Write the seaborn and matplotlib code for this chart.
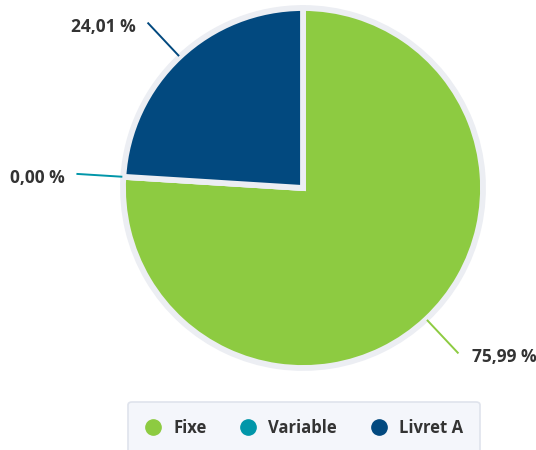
import numpy as np
import matplotlib
matplotlib.use("Agg")
import matplotlib.pyplot as plt
from matplotlib.lines import Line2D
import seaborn as sns

categories = ["Fixe", "Variable", "Livret A"]
values = [75.99, 0.00, 24.01]
labels = ["75,99 %", "0,00 %", "24,01 %"]
colors = ["#8dcb41", "#0096a9", "#02497f"]

sns.set_theme(style="white")
plt.rcParams['font.family'] = ['Open Sans', 'DejaVu Sans']

W, H = 536, 450
fig = plt.figure(figsize=(W / 100, H / 100), dpi=100)
ax = fig.add_axes([0, 0, 1, 1])
ax.set_xlim(0, W)
ax.set_ylim(0, H)
ax.set_aspect('equal')
ax.axis('off')

cx, cy, R = 303, H - 188, 180
wedges, _ = ax.pie(values, colors=colors, startangle=90, counterclock=False,
                   center=(cx, cy), radius=R, frame=True,
                   wedgeprops=dict(edgecolor="#eceef3", linewidth=4.2))
ax.set_xlim(0, W)
ax.set_ylim(0, H)
ax.axis('off')

for w, lab, col in zip(wedges, labels, colors):
    ang = np.deg2rad((w.theta1 + w.theta2) / 2)
    c, s = np.cos(ang), np.sin(ang)
    r0, r1 = R + 1, R + 47
    x0, y0 = cx + r0 * c, cy + r0 * s
    x1, y1 = cx + r1 * c, cy + r1 * s
    ax.plot([x0, x1], [y0, y1], color=col, lw=1.4, solid_capstyle='butt')
    if c >= 0:
        ax.text(x1 + 14, y1 - 4, lab, ha='left', va='center', fontsize=12.5,
                fontweight='bold', color='#333333')
    else:
        ax.text(x1 - 12, y1 - 4, lab, ha='right', va='center', fontsize=12.5,
                fontweight='bold', color='#333333')

handles = [Line2D([0], [0], marker='o', linestyle='none', markersize=11,
                  markerfacecolor=col, markeredgecolor=col) for col in colors]
leg = ax.legend(handles, categories, ncol=3, loc='upper center',
                bbox_to_anchor=(304 / W, 1 - 402 / H), frameon=True,
                fancybox=True, handlelength=1.0, handletextpad=0.7,
                columnspacing=2.0, borderpad=1.0, borderaxespad=0,
                prop=dict(family=['Open Sans', 'DejaVu Sans'], weight='bold', size=12))
fr = leg.get_frame()
fr.set_facecolor('#f4f6fb')
fr.set_edgecolor('#dfe3ec')
fr.set_linewidth(1.2)
fr.set_alpha(1)
for t in leg.get_texts():
    t.set_color('#333333')

fig.savefig("out.png", dpi=100)
